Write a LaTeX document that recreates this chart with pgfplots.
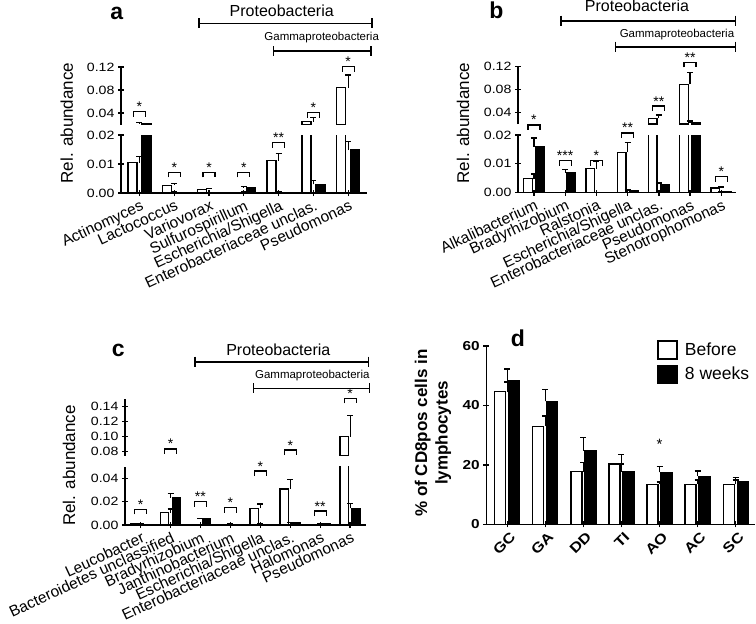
\documentclass[border=0pt]{standalone}
\usepackage{fontspec}
\setmainfont{Liberation Sans}
\newfontfamily\wide{Liberation Sans}[FakeStretch=1.18]
\usepackage{pgfplots}
\usepackage{pgfplotstable}
\pgfplotsset{compat=1.18}

\newcommand{\fs}[1]{\fontsize{#1}{#1}\selectfont}

% bracket + stars, drawn inside an axis
\newcommand{\sig}[3]{%
  \draw[line width=1.2pt] ([xshift=-6pt,yshift=-5pt]axis cs:#1,#2) -- ([xshift=-6pt]axis cs:#1,#2)
     -- ([xshift=6pt]axis cs:#1,#2) -- ([xshift=6pt,yshift=-5pt]axis cs:#1,#2);
  \node[font=\fs{14}, anchor=base, inner sep=0pt] at (axis cs:#1,#2) {#3};
}
% group bracket above a panel
\newcommand{\grp}[3]{% x1 x2 y
  \draw[line width=1.6pt] (#1pt,-#3pt) -- (#2pt,-#3pt);
  \draw[line width=1.6pt] (#1pt,-#3pt+5pt) -- (#1pt,-#3pt-5pt);
  \draw[line width=1.6pt] (#2pt,-#3pt+5pt) -- (#2pt,-#3pt-5pt);
}

% Before (w) / 8 weeks (b), with error
\pgfplotstableread{
x w      we     b      be
0 0.0105 0.0020 0.0222 0.0012
1 0.0027 0.0006 0.0002 0.0001
2 0.0013 0.0003 0.0001 0.0000
3 0.0002 0.0001 0.0019 0.0003
4 0.0111 0.0026 0.0002 0.0001
5 0.0250 0.0075 0.0030 0.0013
6 0.0840 0.0220 0.0148 0.0030
}\tabA
\pgfplotstableread{
x w      we     b      be
0 0.0048 0.0017 0.0160 0.0030
1 0.0000 0.0000 0.0068 0.0012
2 0.0083 0.0026 0.0001 0.0000
3 0.0140 0.0034 0.0007 0.0002
4 0.0297 0.0057 0.0029 0.0004
5 0.0890 0.0210 0.0220 0.0035
6 0.0016 0.0003 0.0003 0.0001
}\tabB
\pgfplotstableread{
x w      we     b      be
0 0.0010 0.0003 0.0002 0.0001
1 0.0106 0.0030 0.0234 0.0036
2 0.0003 0.0001 0.0052 0.0006
3 0.0001 0.0000 0.0006 0.0001
4 0.0143 0.0037 0.0006 0.0002
5 0.0309 0.0083 0.0018 0.0004
6 0.0002 0.0001 0.0008 0.0002
7 0.1000 0.0280 0.0143 0.0043
}\tabC
\pgfplotstableread{
x w    we  b    be
0 44.6 3.3 48.2 4.0
1 33.0 3.4 41.4 4.0
2 17.7 3.0 24.7 4.5
3 20.3 3.2 17.7 2.6
4 13.5 0.8 17.5 1.9
5 13.5 1.4 16.2 1.7
6 13.4 1.5 14.3 1.5
}\tabD

\pgfplotsset{
  noarrows/.style={
    every outer x axis line/.append style={-},
    every outer y axis line/.append style={-},
    every inner x axis line/.append style={-},
    every inner y axis line/.append style={-},
    axis line style={-, line width=1.5pt}},
  gp/.style={
    scale only axis,
    clip mode=individual,
    tick align=outside,
    major tick length=6pt,
    tick style={line width=1.3pt, black},
    /pgf/number format/assume math mode=true,
    scaled y ticks=false,
  },
  lowax/.style={gp, axis x line=bottom, axis y line=left, noarrows,
    xtick=data,
    xticklabel style={font=\fs{15.5}, rotate=25, anchor=north east, inner sep=1pt, yshift=-2pt},
    yticklabel style={font=\wide\fs{12}, /pgf/number format/.cd, fixed, fixed zerofill, precision=2}},
  upax/.style={gp, axis x line=none, axis y line=left, noarrows,
    yticklabel style={font=\wide\fs{12}, /pgf/number format/.cd, fixed, fixed zerofill, precision=2}},
  err/.style={error bars/y dir=plus, error bars/y explicit, error bars/error mark=-,
    error bars/error bar style={line width=1.2pt},
    error bars/error mark options={rotate=90, line width=1.4pt, mark size=3pt}},
  wb/.style 2 args={ybar, bar width=#1, bar shift=-#2, fill=white, draw=black, line width=1.3pt, err},
  bb/.style 2 args={ybar, bar width=#1, bar shift=#2, fill=black, draw=black, line width=1.3pt, err},
  sqleg/.style={legend image code/.code={\draw[##1,/tikz/.cd,line width=1.5pt,draw=black] (0pt,-9pt) rectangle (19pt,9pt); \path[draw=none,fill=none] (0pt,0pt) -- (25pt,0pt);}},
}

\begin{document}
\begin{tikzpicture}
\path[use as bounding box] (0,0) rectangle (756pt,-624pt);

% ================= panel a =================
\begin{axis}[lowax, at={(121pt,-193pt)}, anchor=south west, width=246pt, height=58pt,
  xmin=-0.53, xmax=6.54, ymin=0, ymax=0.02, ytick={0,0.01,0.02},
  xticklabels={Actinomyces,Lactococcus,Variovorax,Sulfurospirillum,Escherichia/Shigella,Enterobacteriaceae unclas.,Pseudomonas}]
\addplot[wb={9pt}{7pt}] table[x=x,y=w,y error=we]{\tabA};
\addplot[bb={9pt}{7pt}] table[x=x,y=b,y error=be]{\tabA};
\sig{1}{0.00714}{*}
\sig{2}{0.00714}{*}
\sig{3}{0.00714}{*}
\sig{4}{0.01735}{**}
\end{axis}
\begin{axis}[upax, at={(121pt,-124.5pt)}, anchor=south west, width=246pt, height=57.5pt,
  xmin=-0.53, xmax=6.54, ymin=0.02, ymax=0.12, ytick={0.04,0.08,0.12}]
\addplot[wb={9pt}{7pt}, restrict y to domain=0.02:1] table[x=x,y=w,y error=we]{\tabA};
\addplot[bb={9pt}{7pt}, restrict y to domain=0.02:1] table[x=x,y=b,y error=be]{\tabA};
\sig{0}{0.0423}{*}
\sig{5}{0.0405}{*}
\sig{6}{0.1206}{*}
\end{axis}
\node[font=\fs{17}, rotate=90] at (66.7pt,-123pt) {Rel. abundance};
\node[font=\bfseries\fs{23}] at (116.7pt,-13.3pt) {a};
\grp{199}{371.7}{23.3}
\node[font=\fs{16}] at (281.7pt,-10.7pt) {Proteobacteria};
\grp{273.3}{370.7}{51}
\node[font=\fs{11.5}] at (321.7pt,-37.3pt) {Gammaproteobacteria};

% ================= panel b =================
\begin{axis}[lowax, at={(518pt,-192.5pt)}, anchor=south west, width=218pt, height=57.5pt,
  xmin=-0.51, xmax=6.47, ymin=0, ymax=0.02, ytick={0,0.01,0.02},
  xticklabels={Alkalibacterium,Bradyrhizobium,Ralstonia,Escherichia/Shigella,Enterobacteriaceae unclas.,Pseudomonas,Stenotrophomonas}]
\addplot[wb={8.5pt}{6pt}] table[x=x,y=w,y error=we]{\tabB};
\addplot[bb={8.5pt}{6pt}] table[x=x,y=b,y error=be]{\tabB};
\sig{0}{0.0235}{*}
\sig{1}{0.0111}{***}
\sig{2}{0.0111}{*}
\sig{3}{0.0207}{**}
\sig{6}{0.0055}{*}
\end{axis}
\begin{axis}[upax, at={(518pt,-124pt)}, anchor=south west, width=218pt, height=57.5pt,
  xmin=-0.51, xmax=6.47, ymin=0.02, ymax=0.12, ytick={0.04,0.08,0.12}]
\addplot[wb={8.5pt}{6pt}, restrict y to domain=0.02:1] table[x=x,y=w,y error=we]{\tabB};
\addplot[bb={8.5pt}{6pt}, restrict y to domain=0.02:1] table[x=x,y=b,y error=be]{\tabB};
\sig{4}{0.0513}{**}
\sig{5}{0.1273}{**}
\end{axis}
\node[font=\fs{17}, rotate=90] at (463pt,-123pt) {Rel. abundance};
\node[font=\bfseries\fs{23}] at (496.3pt,-10pt) {b};
\grp{560.7}{735.3}{20.7}
\node[font=\fs{16}] at (637pt,-6pt) {Proteobacteria};
\grp{615.3}{735.3}{46.7}
\node[font=\fs{11.5}] at (677pt,-35pt) {Gammaproteobacteria};

% ================= panel c =================
\begin{axis}[lowax, at={(125pt,-525pt)}, anchor=south west, width=241pt, height=58.3pt,
  xmin=-0.52, xmax=7.53, ymin=0, ymax=0.05, ytick={0,0.02,0.04},
  xticklabels={Leucobacter,Bacteroidetes unclassified,Bradyrhizobium,Janthinobacterium,Escherichia/Shigella,Enterobacteriaceae unclas.,Halomonas,Pseudomonas}]
\addplot[wb={8.5pt}{6pt}] table[x=x,y=w,y error=we]{\tabC};
\addplot[bb={8.5pt}{6pt}] table[x=x,y=b,y error=be]{\tabC};
\sig{0}{0.0135}{*}
\sig{2}{0.0200}{**}
\sig{3}{0.0148}{*}
\sig{4}{0.0463}{*}
\sig{6}{0.0120}{**}
\end{axis}
\begin{axis}[upax, at={(125pt,-455.5pt)}, anchor=south west, width=241pt, height=56.3pt,
  xmin=-0.52, xmax=7.53, ymin=0.075, ymax=0.15, ytick={0.08,0.10,0.12,0.14}]
\addplot[wb={8.5pt}{6pt}, restrict y to domain=0.075:1] table[x=x,y=w,y error=we]{\tabC};
\addplot[bb={8.5pt}{6pt}, restrict y to domain=0.075:1] table[x=x,y=b,y error=be]{\tabC};
\sig{1}{0.0837}{*}
\sig{5}{0.0823}{*}
\sig{7}{0.1512}{*}
\end{axis}
\node[font=\fs{17}, rotate=90] at (69pt,-465.5pt) {Rel. abundance};
\node[font=\bfseries\fs{23}] at (118.3pt,-350pt) {c};
\grp{195}{368.3}{361.7}
\node[font=\fs{16}] at (278.3pt,-350pt) {Proteobacteria};
\grp{253.3}{369.3}{388.3}
\node[font=\fs{11.5}] at (312.3pt,-376pt) {Gammaproteobacteria};

% ================= panel d =================
\begin{axis}[gp, sqleg, at={(486.3pt,-524.3pt)}, anchor=south west, width=268.4pt, height=178.3pt,
  axis x line=bottom, axis y line=left, noarrows,
  xmin=-0.55, xmax=6.5, ymin=0, ymax=60, ytick={0,20,40,60},
  yticklabel style={font=\wide\bfseries\fs{13}},
  xtick=data, xticklabels={GC,GA,DD,TI,AO,AC,SC},
  xticklabel style={font=\wide\bfseries\fs{14}, rotate=45, anchor=north east, inner sep=1pt, yshift=-3pt},
  legend style={at={(0.636,1.034)}, anchor=north west, draw=none, fill=none,
    font=\fs{17.5}, row sep=5pt, inner sep=0pt, cells={anchor=west}}]
\addplot[wb={11pt}{7pt}, sqleg] table[x=x,y=w,y error=we]{\tabD};
\addlegendentry{Before}
\addplot[bb={11pt}{7pt}, sqleg] table[x=x,y=b,y error=be]{\tabD};
\addlegendentry{8 weeks}
\node[font=\fs{15}] at (axis cs:4,27) {*};
\end{axis}
\node[font=\bfseries\fontsize{17}{20.5}\selectfont, rotate=90, align=center] at (433pt,-433pt) {\% of CD8pos cells in\\lymphocytes};
\node[font=\bfseries\fs{23}] at (518pt,-338.3pt) {d};
\end{tikzpicture}
\end{document}
